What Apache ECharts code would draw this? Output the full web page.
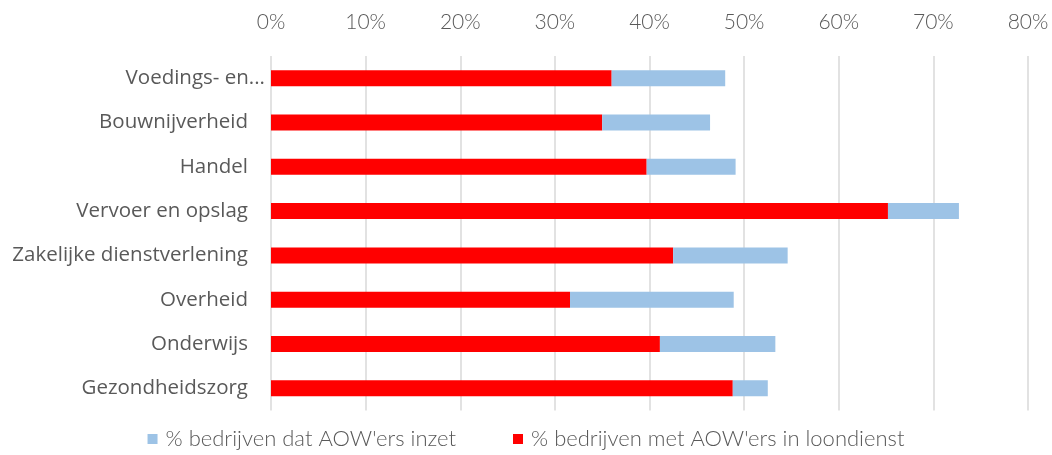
<!DOCTYPE html>
<html>
<head>
<meta charset="utf-8">
<script src="https://cdn.jsdelivr.net/npm/echarts@6/dist/echarts.min.js"></script>
<style>html,body{margin:0;padding:0;background:#fff}#c{width:1052px;height:455px}</style>
</head>
<body>
<div id="c"></div>
<script>
const categories = ["Voedings- en...", "Bouwnijverheid", "Handel", "Vervoer en opslag", "Zakelijke dienstverlening", "Overheid", "Onderwijs", "Gezondheidszorg"];
const loondienst = [36.0, 35.0, 39.7, 65.2, 42.5, 31.6, 41.1, 48.8];
const inzetExtra = [12.0, 11.4, 9.4, 7.5, 12.1, 17.3, 12.2, 3.7];
const tickValues = [0, 10, 20, 30, 40, 50, 60, 70, 80];
const nameRed = "% bedrijven met AOW'ers in loondienst";
const nameBlue = "% bedrijven dat AOW'ers inzet";

const chart = echarts.init(document.getElementById('c'));
chart.setOption({
  animation: false,
  grid: { left: 271, right: 24, top: 56, bottom: 44.5 },
  legend: {
    data: [nameBlue, nameRed],
    top: 423,
    left: 'center',
    icon: 'rect',
    itemWidth: 10,
    itemHeight: 10,
    itemGap: 57,
    textStyle: { fontFamily: 'Lato', fontWeight: 300, fontSize: 22, color: '#595959', padding: [0, 0, 0, 3] }
  },
  xAxis: {
    type: 'value',
    position: 'top',
    min: tickValues[0],
    max: tickValues[tickValues.length - 1],
    interval: 10,
    axisLine: { show: false },
    axisTick: { show: false },
    splitLine: { show: true, lineStyle: { color: '#d9d9d9', width: 1.5 } },
    axisLabel: {
      formatter: '{value}%',
      margin: 23,
      fontFamily: 'Lato',
      fontWeight: 300,
      fontSize: 21,
      color: '#595959'
    }
  },
  yAxis: {
    type: 'category',
    inverse: true,
    data: categories,
    axisLine: { show: false },
    axisTick: { show: false },
    axisLabel: {
      margin: 6,
      fontFamily: 'Open Sans',
      fontSize: 20.5,
      color: '#595959',
      formatter: function (v, i) { return i === 0 ? '{b|' + v + '}' : '{a|' + v + '}'; },
      rich: {
        a: { fontFamily: 'Open Sans', fontSize: 20.5, color: '#595959', padding: [0, 17, 0, 0] },
        b: { fontFamily: 'Open Sans', fontSize: 20.5, color: '#595959' }
      }
    }
  },
  series: [
    {
      name: nameRed, type: 'bar', stack: 'total', data: loondienst,
      barWidth: 16, itemStyle: { color: '#ff0000' }
    },
    {
      name: nameBlue, type: 'bar', stack: 'total', data: inzetExtra,
      barWidth: 16, itemStyle: { color: '#9dc3e6' }
    }
  ]
});
</script>
</body>
</html>
